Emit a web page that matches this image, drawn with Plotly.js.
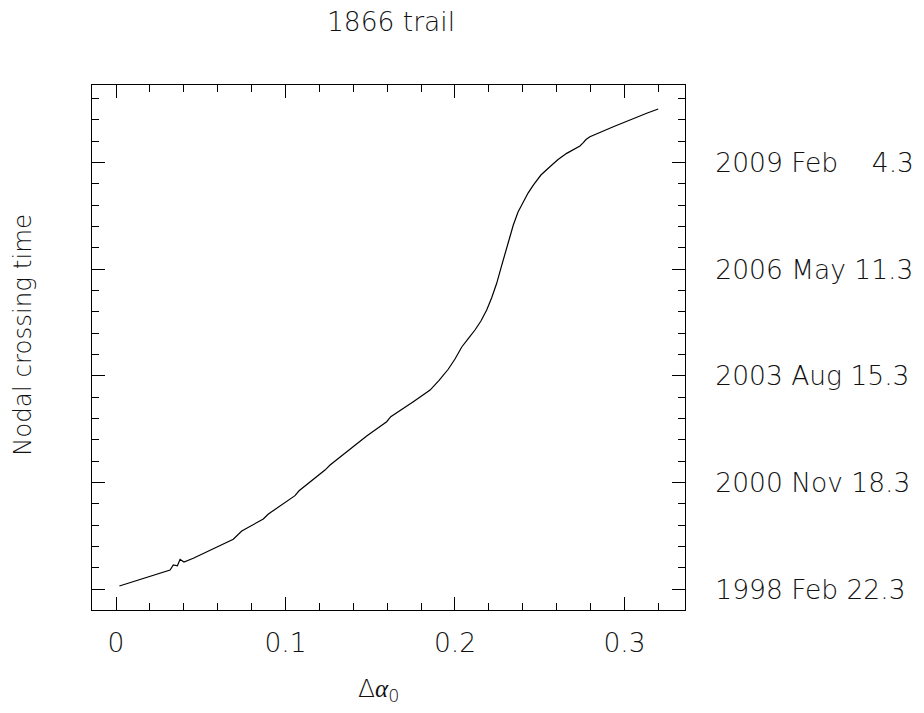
<!DOCTYPE html>
<html>
<head>
<meta charset="utf-8">
<script src="https://cdn.plot.ly/plotly-3.0.1.min.js"></script>
<style>html,body{margin:0;padding:0;background:#fff;}#chart{width:924px;height:713px;}</style>
</head>
<body>
<div id="chart"></div>
<script>
// Delta a0 values
const deltaA0 = [0.0020, 0.0319, 0.0338, 0.0362, 0.0378, 0.0401, 0.0456, 0.0692, 0.0742, 0.0869,
  0.0899, 0.1056, 0.1080, 0.1233, 0.1263, 0.1479, 0.1597, 0.1621, 0.1754, 0.1805,
  0.1853, 0.1906, 0.1960, 0.2000, 0.2040, 0.2077, 0.2118, 0.2153, 0.2187, 0.2216,
  0.2246, 0.2271, 0.2295, 0.2319, 0.2344, 0.2372, 0.2403, 0.2431, 0.2462, 0.2507,
  0.2560, 0.2608, 0.2659, 0.2702, 0.2737, 0.2757, 0.2773, 0.2796, 0.2934, 0.3131,
  0.3199];
// Nodal crossing time, days after 1998 Feb 22.3
const crossingDays = [31, 181, 228, 221, 281, 256, 291, 469, 547, 659,
  706, 878, 924, 1118, 1165, 1437, 1571, 1618, 1759, 1812,
  1868, 1958, 2063, 2159, 2272, 2347, 2431, 2515, 2618, 2731,
  2869, 3012, 3150, 3293, 3415, 3537, 3634, 3715, 3790, 3884,
  3962, 4029, 4087, 4128, 4156, 4187, 4217, 4243, 4337, 4463,
  4503];
const xTickVals = [0, 0.1, 0.2, 0.3];
const xTickText = ['0', '0.1', '0.2', '0.3'];
const yTickVals = [0, 1000, 2000, 3000, 4000];
const yTickText = ['1998 Feb 22.3', '2000 Nov 18.3', '2003 Aug 15.3', '2006 May 11.3', '2009 Feb \u2007 4.3'];

const fam = 'DejaVu Sans, sans-serif';
const tickFont = {family: fam, size: 26.5, color: '#111', weight: 300};
const titleFont = {family: fam, size: 26.5, color: '#111', weight: 300};
const yTitleFont = {family: fam, size: 24.5, color: '#111', weight: 300};
const xTitleFont = {family: fam, size: 25, color: '#111', weight: 300};

const trace = {
  x: deltaA0, y: crossingDays, type: 'scatter', mode: 'lines',
  line: {color: '#000', width: 1.2}, hoverinfo: 'skip'
};

const layout = {
  width: 924, height: 713,
  margin: {l: 92, r: 239, t: 85, b: 103},
  paper_bgcolor: '#fff', plot_bgcolor: '#fff',
  showlegend: false,
  title: {text: '1866 trail', font: titleFont, x: 391/924, xanchor: 'center', xref: 'container',
          y: 1 - 22/713, yanchor: 'middle', yref: 'container'},
  xaxis: {
    range: [-0.01416, 0.3357], tickmode: 'array', tickvals: xTickVals, ticktext: xTickText,
    ticks: 'inside', ticklen: 13, tickwidth: 1, tickcolor: '#000',
    minor: {dtick: 0.02, tick0: 0, ticks: 'inside', ticklen: 7, tickwidth: 1, tickcolor: '#000', showgrid: false},
    mirror: 'allticks', showline: true, linecolor: '#000', linewidth: 1,
    showgrid: false, zeroline: false, tickfont: tickFont, ticklabelstandoff: 9
  },
  yaxis: {
    range: [-194, 4728], side: 'right', tickmode: 'array', tickvals: yTickVals, ticktext: yTickText,
    ticks: 'inside', ticklen: 13, tickwidth: 1, tickcolor: '#000',
    minor: {dtick: 200, tick0: 0, ticks: 'inside', ticklen: 7, tickwidth: 1, tickcolor: '#000', showgrid: false},
    mirror: 'allticks', showline: true, linecolor: '#000', linewidth: 1,
    showgrid: false, zeroline: false, tickfont: tickFont, ticklabelstandoff: 24
  },
  annotations: [
    {text: 'Nodal crossing time', textangle: -90, xref: 'paper', yref: 'paper',
     x: (22-92)/593, y: (610-335)/525, xanchor: 'center', yanchor: 'middle', showarrow: false, font: yTitleFont},
    {text: '\u0394<span style="font-family:\'Liberation Serif\';font-style:italic;font-weight:400">\u03b1</span><sub>0</sub>',
     xref: 'paper', yref: 'paper',
     x: (378-92)/593, y: (610-690)/525, xanchor: 'center', yanchor: 'middle', showarrow: false, font: xTitleFont}
  ]
};

Plotly.newPlot('chart', [trace], layout, {staticPlot: true, displayModeBar: false});
</script>
</body>
</html>
